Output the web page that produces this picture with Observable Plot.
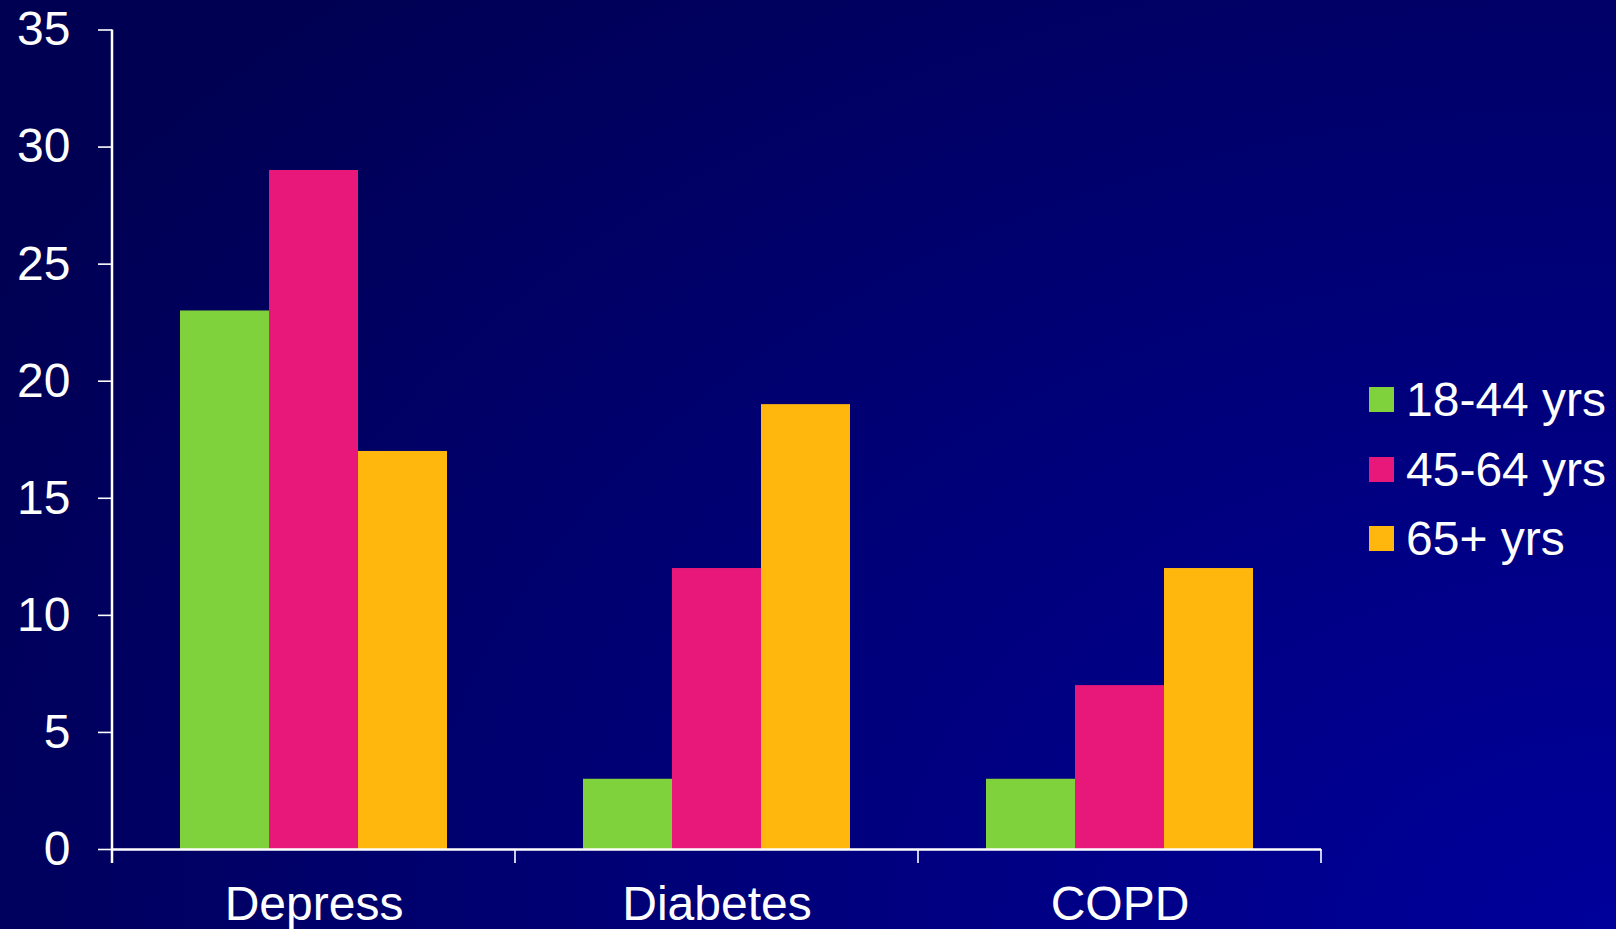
<!DOCTYPE html>
<html>
<head>
<meta charset="utf-8">
<script src="https://cdn.jsdelivr.net/npm/d3@7"></script>
<script src="https://cdn.jsdelivr.net/npm/@observablehq/plot@0.6"></script>
<style>
  html, body { margin: 0; padding: 0; }
  body { width: 1616px; height: 929px; overflow: hidden; }
  #wrap {
    position: relative; width: 1616px; height: 929px;
    background: radial-gradient(ellipse 1900px 1300px at 100% 100%, #00009b 0%, #000070 60%, #000052 100%);
    font-family: "Liberation Sans", Arial, sans-serif; color: white;
  }
  #chart { position: absolute; left: 0; top: 0; }
  #legend { position: absolute; left: 1369px; top: 365px; }
  .row { display: flex; align-items: center; height: 69.5px; font-size: 48px; }
  .sw { width: 25px; height: 25px; margin-right: 12px; }
</style>
</head>
<body>
<div id="wrap">
  <div id="chart"></div>
  <div id="legend"></div>
</div>
<script>
const categories = ["Depress", "Diabetes", "COPD"];
const groups = ["18-44 yrs", "45-64 yrs", "65+ yrs"];
const values18to44 = [23, 3, 3];
const values45to64 = [29, 12, 7];
const values65plus = [17, 19, 12];
const yTicks = [0, 5, 10, 15, 20, 25, 30, 35];
const colors = ["#80d23c", "#e8187b", "#ffb70e"];

const seriesValues = [values18to44, values45to64, values65plus];
const rows = [];
categories.forEach((c, i) => {
  groups.forEach((g, j) => rows.push({category: c, group: g, value: seriesValues[j][i]}));
});

const plot = Plot.plot({
  width: 1616,
  height: 929,
  marginLeft: 111,
  marginRight: 294,
  marginTop: 29.5,
  marginBottom: 80,
  style: {background: "transparent", color: "white", fontFamily: "'Liberation Sans', Arial, sans-serif", fontSize: "48px"},
  fx: {domain: categories, padding: 0, tickSize: 0, tickPadding: 36, label: null},
  x: {domain: groups, paddingInner: 0, paddingOuter: 0.75, axis: null},
  y: {domain: [0, 35], ticks: yTicks, tickSize: 14, tickPadding: 28, label: null},
  color: {domain: groups, range: colors},
  marks: [
    Plot.barY(rows, {fx: "category", x: "group", y: "value", fill: "group", inset: 0}),
    Plot.ruleY([0], {stroke: "white", strokeWidth: 2.5})
  ]
});
document.getElementById("chart").appendChild(plot);

// axis line and category-boundary ticks, positioned from Plot's own scales
const svg = d3.select(plot);
svg.selectAll("[aria-label='y-axis tick'] path, [aria-label='y-axis tick']").attr("stroke-width", 1.6);
const fx = plot.scale("fx");
const y = plot.scale("y");
const y0 = y.apply(0);
const bounds = categories.map(c => fx.apply(c)).concat([fx.apply(categories[categories.length - 1]) + fx.bandwidth]);
const g = svg.append("g").attr("stroke", "white");
g.append("line")
  .attr("x1", bounds[0]).attr("x2", bounds[0])
  .attr("y1", y.apply(yTicks[yTicks.length - 1])).attr("y2", y0 + 14)
  .attr("stroke-width", 2.5);
g.selectAll("line.b").data(bounds.slice(1)).join("line")
  .attr("class", "b")
  .attr("x1", d => d).attr("x2", d => d)
  .attr("y1", y0).attr("y2", y0 + 14)
  .attr("stroke-width", 1.6);

// legend
const legend = d3.select("#legend");
groups.forEach((gname, i) => {
  const r = legend.append("div").attr("class", "row");
  r.append("div").attr("class", "sw").style("background", colors[i]);
  r.append("span").text(gname);
});
</script>
</body>
</html>
